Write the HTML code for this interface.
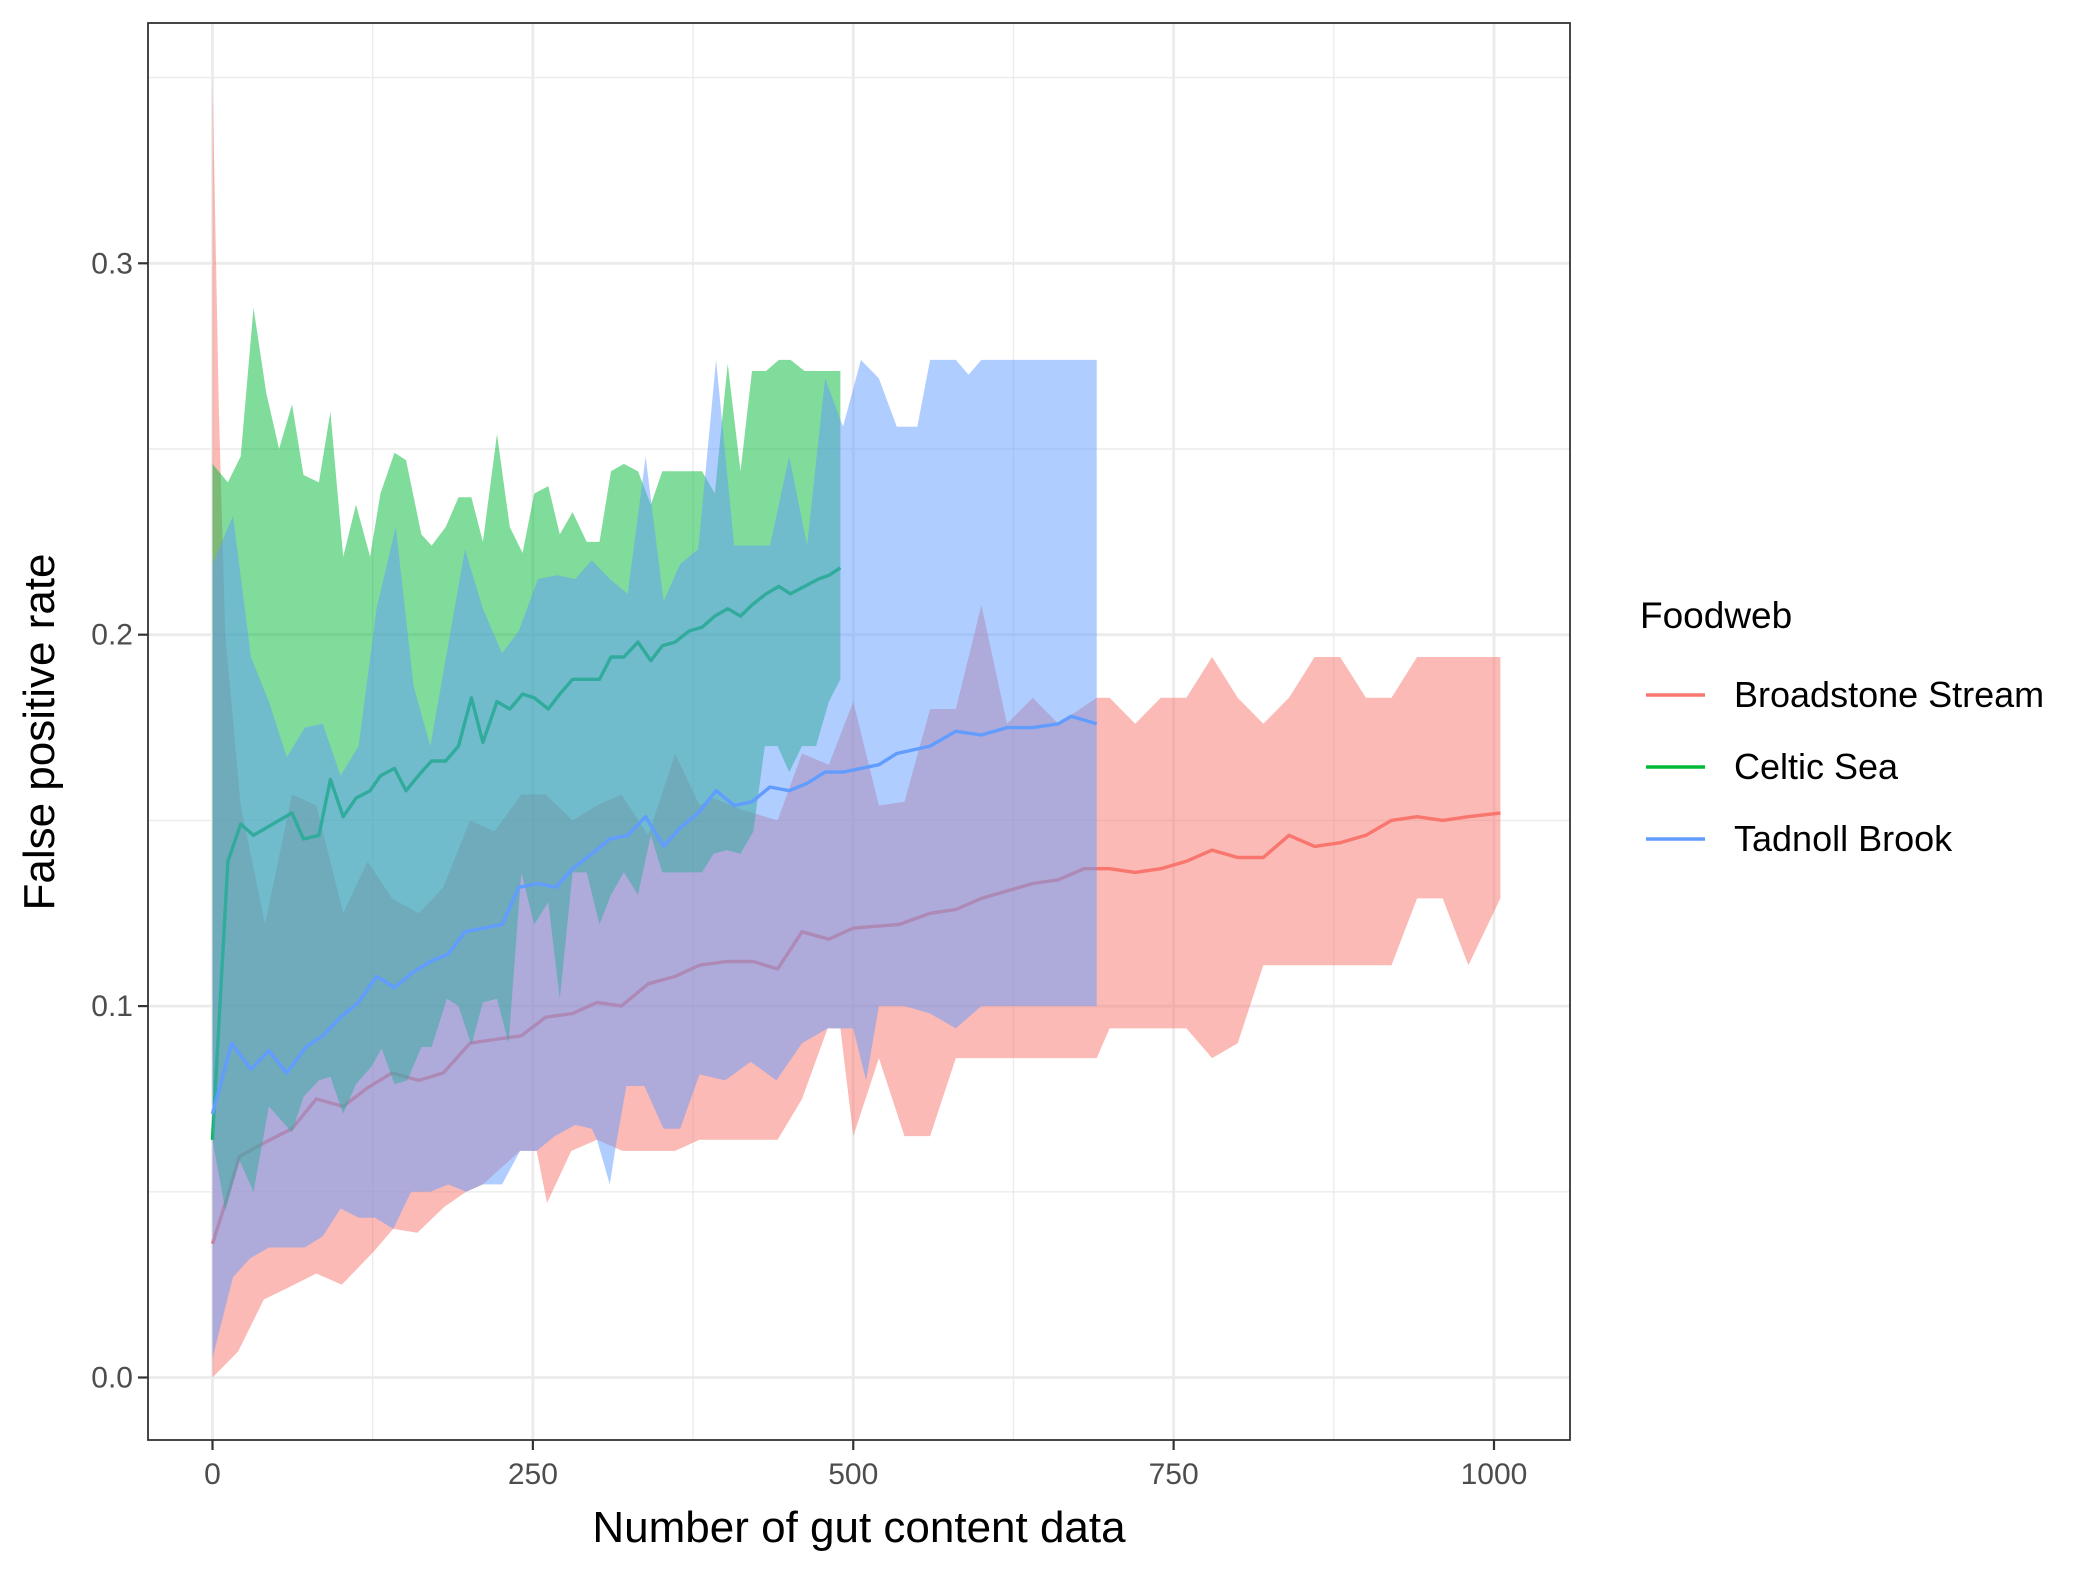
<!DOCTYPE html>
<html><head><meta charset="utf-8"><style>
html,body{margin:0;padding:0;background:#fff;}
svg{display:block;font-family:"Liberation Sans",Arial,sans-serif;}
</style></head><body>
<svg id="chart" width="2095" height="1574" viewBox="0 0 2095 1574" xmlns="http://www.w3.org/2000/svg">
<rect x="0" y="0" width="2095" height="1574" fill="#fff"/>
<g id="grid"></g>
<g id="series"></g>
<rect x="148" y="23" width="1422" height="1417" fill="none" stroke="#333" stroke-width="1.8"/>
<g id="axes"></g>
<text x="859" y="1542" font-size="44" text-anchor="middle" fill="#000">Number of gut content data</text>
<text transform="translate(54,732) rotate(-90)" font-size="44" text-anchor="middle" fill="#000">False positive rate</text>
<g>
<text x="1640" y="628" font-size="37" fill="#000">Foodweb</text>
<g><line x1="1646" y1="695" x2="1705" y2="695" stroke="#F8766D" stroke-width="3.5"/><text x="1734" y="707" font-size="36" fill="#000">Broadstone Stream</text></g>
<g><line x1="1646" y1="767" x2="1705" y2="767" stroke="#00BA38" stroke-width="3.5"/><text x="1734" y="779" font-size="36" fill="#000">Celtic Sea</text></g>
<g><line x1="1646" y1="839" x2="1705" y2="839" stroke="#619CFF" stroke-width="3.5"/><text x="1734" y="851" font-size="36" fill="#000">Tadnoll Brook</text></g>
</g>
</svg>
<script>
const xTicks=[0,250,500,750,1000];
const xMinor=[125,375,625,875];
const yTicks=[0,0.1,0.2,0.3];
const yTickLabels=["0.0","0.1","0.2","0.3"];
const yMinor=[0.05,0.15,0.25,0.35];

// Broadstone Stream
const bsMeanX=[0,11,21,42,62,81,102,121,140,161,180,201,220,241,260,281,300,319,340,361,380,401,422,441,460,481,500,536,560,580,600,620,640,660,680,700,720,740,760,780,800,820,840,860,880,900,920,940,960,980,1005];
const bsMean=[0.036,0.048,0.0595,0.0635,0.067,0.075,0.073,0.078,0.082,0.080,0.082,0.090,0.091,0.092,0.097,0.098,0.101,0.100,0.106,0.108,0.111,0.112,0.112,0.110,0.120,0.118,0.121,0.122,0.125,0.126,0.129,0.131,0.133,0.134,0.137,0.137,0.136,0.137,0.139,0.142,0.140,0.140,0.146,0.143,0.144,0.146,0.150,0.151,0.150,0.151,0.152];
const bsUpX=[0,5,10,22,41,62,81,102,121,140,161,180,201,220,241,260,281,300,319,340,361,380,391,412,441,460,481,500,520,540,560,580,600,620,640,660,690,700,720,740,760,780,800,820,840,860,880,900,920,940,1005];
const bsUp=[0.35,0.26,0.2,0.154,0.122,0.157,0.154,0.125,0.139,0.129,0.125,0.132,0.150,0.147,0.157,0.157,0.150,0.154,0.157,0.146,0.168,0.154,0.156,0.153,0.150,0.168,0.165,0.182,0.154,0.155,0.180,0.180,0.208,0.176,0.183,0.176,0.183,0.183,0.176,0.183,0.183,0.194,0.183,0.176,0.183,0.194,0.194,0.183,0.183,0.194,0.194];
const bsLoX=[0,20,40,58,81,101,126,141,160,181,198,211,240,253,261,280,300,320,361,380,441,460,480,490,500,520,540,560,580,600,690,700,760,780,800,820,920,940,960,980,1005];
const bsLo=[0.0,0.007,0.021,0.024,0.028,0.025,0.034,0.040,0.039,0.046,0.050,0.052,0.061,0.061,0.047,0.061,0.064,0.061,0.061,0.064,0.064,0.075,0.094,0.094,0.065,0.086,0.065,0.065,0.086,0.086,0.086,0.094,0.094,0.086,0.09,0.111,0.111,0.129,0.129,0.111,0.129];

// Celtic Sea
const csX=[0,12,22,32,42,52,62,71,83,92,102,112,123,131,142,151,163,171,182,192,202,211,222,232,242,251,262,271,281,292,302,311,321,332,342,351,361,372,382,392,402,412,421,432,442,451,462,473,481,490];
const csMean=[0.064,0.139,0.149,0.146,0.148,0.150,0.152,0.145,0.146,0.161,0.151,0.156,0.158,0.162,0.164,0.158,0.163,0.166,0.166,0.170,0.183,0.171,0.182,0.180,0.184,0.183,0.180,0.184,0.188,0.188,0.188,0.194,0.194,0.198,0.193,0.197,0.198,0.201,0.202,0.205,0.207,0.205,0.208,0.211,0.213,0.211,0.213,0.215,0.216,0.218];
const csUp=[0.246,0.241,0.248,0.288,0.265,0.250,0.262,0.243,0.241,0.260,0.221,0.235,0.221,0.238,0.249,0.247,0.227,0.224,0.229,0.237,0.237,0.225,0.254,0.229,0.222,0.238,0.240,0.227,0.233,0.225,0.225,0.244,0.246,0.244,0.235,0.244,0.244,0.244,0.244,0.238,0.273,0.244,0.271,0.271,0.274,0.274,0.271,0.271,0.271,0.271];
const csLoX=[0,10,21,32,44,62,71,83,92,102,112,124,132,142,152,163,171,183,192,202,211,222,231,241,251,262,271,281,292,302,311,321,332,342,351,382,391,401,412,422,431,441,450,460,471,481,490];
const csLo=[0.064,0.045,0.0585,0.05,0.073,0.066,0.0756,0.080,0.081,0.071,0.079,0.0837,0.0886,0.079,0.080,0.089,0.089,0.102,0.100,0.0895,0.101,0.102,0.090,0.136,0.122,0.128,0.102,0.136,0.136,0.122,0.130,0.136,0.130,0.146,0.136,0.136,0.141,0.142,0.141,0.147,0.170,0.170,0.163,0.170,0.170,0.182,0.188];

// Tadnoll Brook
const tbMeanX=[0,15,30,44,58,73,86,100,114,128,142,156,170,184,197,212,226,239,254,268,281,296,310,324,338,352,365,379,393,407,421,435,450,464,478,492,506,520,534,560,580,600,620,640,660,670,690];
const tbMean=[0.071,0.090,0.083,0.088,0.082,0.089,0.092,0.097,0.101,0.108,0.105,0.109,0.112,0.114,0.120,0.121,0.122,0.132,0.133,0.132,0.137,0.141,0.145,0.146,0.151,0.143,0.148,0.152,0.158,0.154,0.155,0.159,0.158,0.160,0.163,0.163,0.164,0.165,0.168,0.170,0.174,0.173,0.175,0.175,0.176,0.178,0.176];
const tbUpX=[0,16,30,44,58,72,86,100,114,128,143,157,170,197,211,226,239,254,269,283,296,310,324,338,352,365,379,393,407,421,435,450,464,478,492,506,520,534,550,560,580,590,600,690];
const tbUp=[0.219,0.232,0.194,0.182,0.167,0.175,0.176,0.162,0.170,0.207,0.229,0.186,0.170,0.223,0.207,0.195,0.201,0.215,0.216,0.215,0.220,0.215,0.211,0.248,0.209,0.219,0.223,0.274,0.224,0.224,0.224,0.248,0.224,0.269,0.256,0.274,0.269,0.256,0.256,0.274,0.274,0.270,0.274,0.274];
const tbLoX=[0,2,16,29,44,58,72,86,100,114,127,141,155,170,184,198,211,226,240,253,267,283,296,300,310,315,323,337,352,365,380,400,420,440,460,480,500,510,520,540,560,580,600,690];
const tbLo=[0.005,0.008,0.027,0.032,0.035,0.035,0.035,0.038,0.0455,0.043,0.043,0.040,0.050,0.050,0.052,0.050,0.052,0.052,0.061,0.061,0.065,0.068,0.067,0.064,0.052,0.063,0.0785,0.0785,0.067,0.067,0.0816,0.08,0.085,0.08,0.09,0.094,0.094,0.08,0.1,0.1,0.098,0.094,0.1,0.1];

const SVGNS="http://www.w3.org/2000/svg";
const X0=148,X1=1570,Y0=23,Y1=1440;
function sx(v){return 212.5+v*1.2815;}
function sy(v){return 1377.5-v*3714;}
function interp(xs,ys,x){
  if(x<=xs[0])return ys[0];
  for(let i=1;i<xs.length;i++){if(x<=xs[i]){const t=(x-xs[i-1])/(xs[i]-xs[i-1]);return ys[i-1]+t*(ys[i]-ys[i-1]);}}
  return ys[ys.length-1];
}
function mk(tag,attrs,parent){const e=document.createElementNS(SVGNS,tag);for(const k in attrs)e.setAttribute(k,attrs[k]);parent.appendChild(e);return e;}

const grid=document.getElementById('grid');
mk('rect',{x:X0,y:Y0,width:X1-X0,height:Y1-Y0,fill:'#fff'},grid);
yMinor.forEach(v=>{const l=mk('line',{x1:X0,x2:X1,y1:sy(v),y2:sy(v),stroke:'#EBEBEB','stroke-width':1.4},grid);

});
xMinor.forEach(v=>{const l=mk('line',{x1:sx(v),x2:sx(v),y1:Y0,y2:Y1,stroke:'#EBEBEB','stroke-width':1.4},grid);

});
yTicks.forEach(v=>{const l=mk('line',{x1:X0,x2:X1,y1:sy(v),y2:sy(v),stroke:'#EBEBEB','stroke-width':2.8},grid);

});
xTicks.forEach(v=>{const l=mk('line',{x1:sx(v),x2:sx(v),y1:Y0,y2:Y1,stroke:'#EBEBEB','stroke-width':2.8},grid);

});

const series=document.getElementById('series');
function ribbon(loX,lo,upX,up,meanX,mean,color,name){
  const xs=Array.from(new Set(loX.concat(upX))).sort((a,b)=>a-b);
  let pts=xs.map(x=>sx(x).toFixed(1)+','+sy(interp(upX,up,x)).toFixed(1));
  let pts2=xs.slice().reverse().map(x=>sx(x).toFixed(1)+','+sy(interp(loX,lo,x)).toFixed(1));
  const p=mk('polygon',{points:pts.concat(pts2).join(' '),fill:color,'fill-opacity':0.5},series);
  
  
  const l=mk('polyline',{points:meanX.map((x,i)=>sx(x).toFixed(1)+','+sy(mean[i]).toFixed(1)).join(' '),fill:'none',stroke:color,'stroke-width':3.4,'stroke-linejoin':'round'},series);
  
  
}
ribbon(bsLoX,bsLo,bsUpX,bsUp,bsMeanX,bsMean,'#F8766D','broadstone-stream');
ribbon(csLoX,csLo,csX,csUp,csX,csMean,'#00BA38','celtic-sea');
ribbon(tbLoX,tbLo,tbUpX,tbUp,tbMeanX,tbMean,'#619CFF','tadnoll-brook');

const axes=document.getElementById('axes');
xTicks.forEach(v=>{
  const t=mk('line',{x1:sx(v),x2:sx(v),y1:Y1,y2:Y1+10,stroke:'#333','stroke-width':2.2},axes);
  
  
  const s=mk('text',{x:sx(v),y:Y1+44,'font-size':30,'text-anchor':'middle',fill:'#4D4D4D'},axes);
  s.textContent=String(v);
  
  
});
yTicks.forEach((v,i)=>{
  const t=mk('line',{x1:X0-10,x2:X0,y1:sy(v),y2:sy(v),stroke:'#333','stroke-width':2.2},axes);
  
  
  const s=mk('text',{x:X0-15,y:sy(v)+10,'font-size':30,'text-anchor':'end',fill:'#4D4D4D'},axes);
  s.textContent=yTickLabels[i];
  
  
});
</script>
</body></html>
